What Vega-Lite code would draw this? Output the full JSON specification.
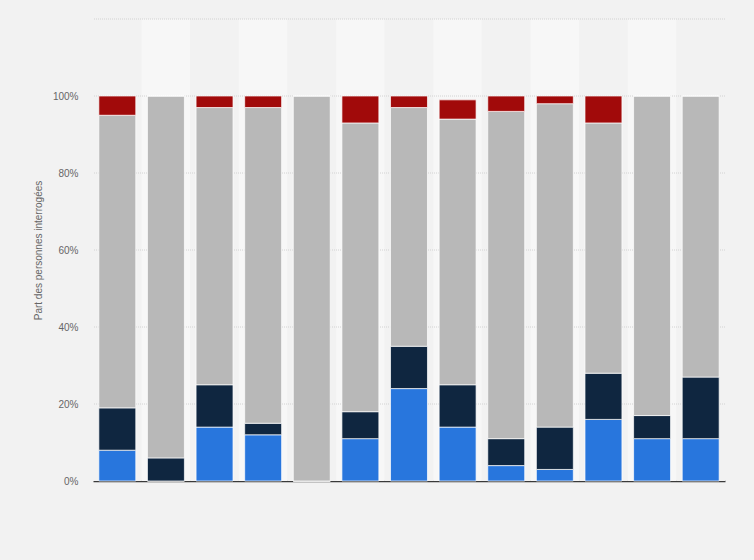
{
  "$schema": "https://vega.github.io/schema/vega-lite/v6.json",
  "width": 632,
  "height": 462,
  "autosize": "none",
  "padding": {"left": 93, "top": 19, "right": 29, "bottom": 79},
  "background": "#f2f2f2",
  "config": {
    "view": {"stroke": null},
    "font": "Liberation Sans"
  },
  "datasets": {
    "bands": [
      {"q": 1, "shade": "a"}, {"q": 2, "shade": "b"}, {"q": 3, "shade": "a"}, {"q": 4, "shade": "b"},
      {"q": 5, "shade": "a"}, {"q": 6, "shade": "b"}, {"q": 7, "shade": "a"}, {"q": 8, "shade": "b"},
      {"q": 9, "shade": "a"}, {"q": 10, "shade": "b"}, {"q": 11, "shade": "a"}, {"q": 12, "shade": "b"},
      {"q": 13, "shade": "a"}
    ],
    "grid": [
      {"tick": 20}, {"tick": 40}, {"tick": 60}, {"tick": 80}, {"tick": 100}, {"tick": 120}
    ],
    "values": [
      {"q": 1, "cat": "Catégorie 1", "rank": 1, "value": 8},
      {"q": 1, "cat": "Catégorie 2", "rank": 2, "value": 11},
      {"q": 1, "cat": "Catégorie 3", "rank": 3, "value": 76},
      {"q": 1, "cat": "Catégorie 4", "rank": 4, "value": 5},
      {"q": 2, "cat": "Catégorie 1", "rank": 1, "value": 0},
      {"q": 2, "cat": "Catégorie 2", "rank": 2, "value": 6},
      {"q": 2, "cat": "Catégorie 3", "rank": 3, "value": 94},
      {"q": 2, "cat": "Catégorie 4", "rank": 4, "value": 0},
      {"q": 3, "cat": "Catégorie 1", "rank": 1, "value": 14},
      {"q": 3, "cat": "Catégorie 2", "rank": 2, "value": 11},
      {"q": 3, "cat": "Catégorie 3", "rank": 3, "value": 72},
      {"q": 3, "cat": "Catégorie 4", "rank": 4, "value": 3},
      {"q": 4, "cat": "Catégorie 1", "rank": 1, "value": 12},
      {"q": 4, "cat": "Catégorie 2", "rank": 2, "value": 3},
      {"q": 4, "cat": "Catégorie 3", "rank": 3, "value": 82},
      {"q": 4, "cat": "Catégorie 4", "rank": 4, "value": 3},
      {"q": 5, "cat": "Catégorie 1", "rank": 1, "value": 0},
      {"q": 5, "cat": "Catégorie 2", "rank": 2, "value": 0},
      {"q": 5, "cat": "Catégorie 3", "rank": 3, "value": 100},
      {"q": 5, "cat": "Catégorie 4", "rank": 4, "value": 0},
      {"q": 6, "cat": "Catégorie 1", "rank": 1, "value": 11},
      {"q": 6, "cat": "Catégorie 2", "rank": 2, "value": 7},
      {"q": 6, "cat": "Catégorie 3", "rank": 3, "value": 75},
      {"q": 6, "cat": "Catégorie 4", "rank": 4, "value": 7},
      {"q": 7, "cat": "Catégorie 1", "rank": 1, "value": 24},
      {"q": 7, "cat": "Catégorie 2", "rank": 2, "value": 11},
      {"q": 7, "cat": "Catégorie 3", "rank": 3, "value": 62},
      {"q": 7, "cat": "Catégorie 4", "rank": 4, "value": 3},
      {"q": 8, "cat": "Catégorie 1", "rank": 1, "value": 14},
      {"q": 8, "cat": "Catégorie 2", "rank": 2, "value": 11},
      {"q": 8, "cat": "Catégorie 3", "rank": 3, "value": 69},
      {"q": 8, "cat": "Catégorie 4", "rank": 4, "value": 5},
      {"q": 9, "cat": "Catégorie 1", "rank": 1, "value": 4},
      {"q": 9, "cat": "Catégorie 2", "rank": 2, "value": 7},
      {"q": 9, "cat": "Catégorie 3", "rank": 3, "value": 85},
      {"q": 9, "cat": "Catégorie 4", "rank": 4, "value": 4},
      {"q": 10, "cat": "Catégorie 1", "rank": 1, "value": 3},
      {"q": 10, "cat": "Catégorie 2", "rank": 2, "value": 11},
      {"q": 10, "cat": "Catégorie 3", "rank": 3, "value": 84},
      {"q": 10, "cat": "Catégorie 4", "rank": 4, "value": 2},
      {"q": 11, "cat": "Catégorie 1", "rank": 1, "value": 16},
      {"q": 11, "cat": "Catégorie 2", "rank": 2, "value": 12},
      {"q": 11, "cat": "Catégorie 3", "rank": 3, "value": 65},
      {"q": 11, "cat": "Catégorie 4", "rank": 4, "value": 7},
      {"q": 12, "cat": "Catégorie 1", "rank": 1, "value": 11},
      {"q": 12, "cat": "Catégorie 2", "rank": 2, "value": 6},
      {"q": 12, "cat": "Catégorie 3", "rank": 3, "value": 83},
      {"q": 12, "cat": "Catégorie 4", "rank": 4, "value": 0},
      {"q": 13, "cat": "Catégorie 1", "rank": 1, "value": 11},
      {"q": 13, "cat": "Catégorie 2", "rank": 2, "value": 16},
      {"q": 13, "cat": "Catégorie 3", "rank": 3, "value": 73},
      {"q": 13, "cat": "Catégorie 4", "rank": 4, "value": 0}
    ]
  },
  "layer": [
    {
      "data": {"name": "bands"},
      "mark": {"type": "bar", "width": {"band": 1}},
      "encoding": {
        "x": {
          "field": "q",
          "type": "ordinal",
          "scale": {"paddingInner": 0, "paddingOuter": 0},
          "axis": {
            "labels": false,
            "ticks": false,
            "title": null,
            "domain": true,
            "domainColor": "#3a3a3a",
            "domainWidth": 1.5,
            "grid": false
          }
        },
        "y": {"datum": 120, "type": "quantitative", "scale": {"domain": [0, 120]}},
        "y2": {"datum": 0},
        "color": {
          "field": "shade",
          "type": "nominal",
          "scale": {"domain": ["a", "b"], "range": ["#f2f2f2", "#f7f7f7"]},
          "legend": null
        }
      }
    },
    {
      "data": {"name": "grid"},
      "mark": {"type": "rule", "color": "#d2d2d2", "strokeDash": [1, 1], "strokeWidth": 1},
      "encoding": {
        "y": {"field": "tick", "type": "quantitative", "scale": {"domain": [0, 120]}}
      }
    },
    {
      "data": {"name": "values"},
      "mark": {"type": "bar", "width": {"band": 0.76}, "stroke": "#ffffff", "strokeWidth": 1, "strokeOpacity": 0.7},
      "encoding": {
        "x": {"field": "q", "type": "ordinal"},
        "y": {
          "field": "value",
          "type": "quantitative",
          "stack": "zero",
          "scale": {"domain": [0, 120]},
          "axis": {
            "values": [0, 20, 40, 60, 80, 100, 120],
            "labelExpr": "datum.value == 120 ? '' : datum.value + '%'",
            "title": "Part des personnes interrogées",
            "titleFontSize": 10,
            "titleFontWeight": "normal",
            "titleColor": "#666666",
            "titleX": -50,
            "labelFontSize": 10,
            "labelColor": "#666666",
            "labelPadding": 15,
            "ticks": false,
            "domain": false,
            "grid": false
          }
        },
        "order": {"field": "rank", "type": "quantitative"},
        "color": {
          "field": "cat",
          "type": "nominal",
          "scale": {
            "domain": ["Catégorie 1", "Catégorie 2", "Catégorie 3", "Catégorie 4"],
            "range": ["#2876dd", "#0f2640", "#b8b8b8", "#a10a0a"]
          },
          "legend": null
        }
      }
    }
  ],
  "resolve": {"scale": {"color": "independent"}}
}
